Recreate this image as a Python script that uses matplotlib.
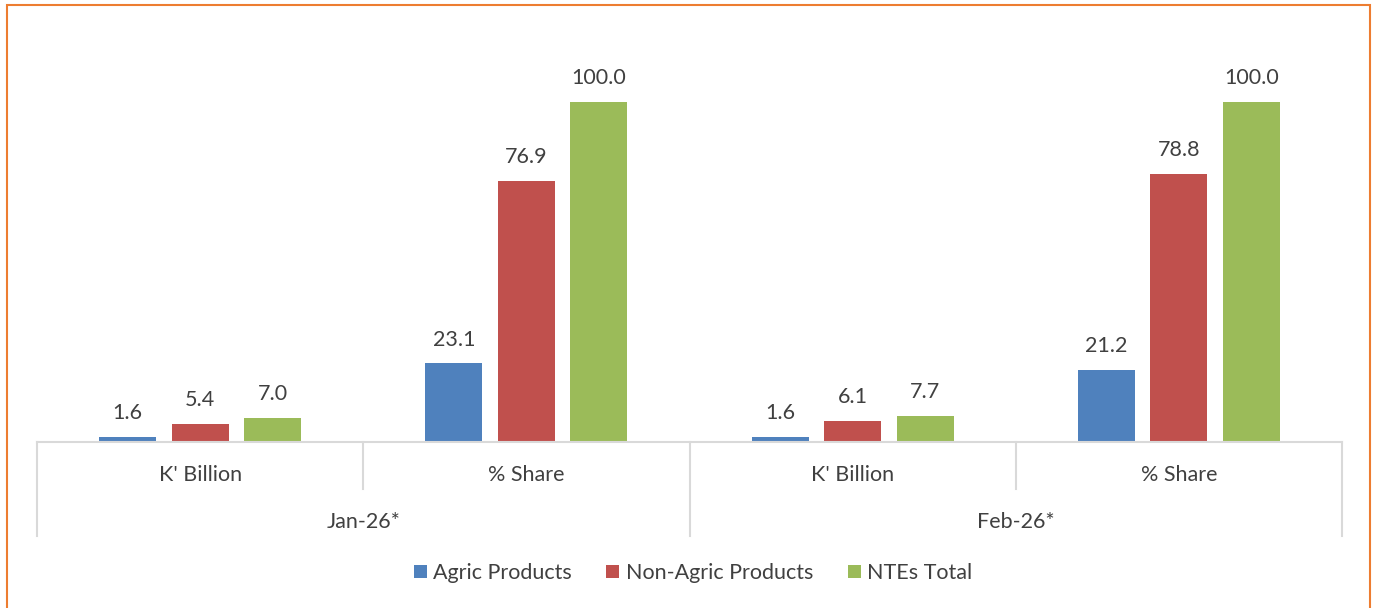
import numpy as np
import matplotlib.pyplot as plt
from matplotlib.patches import Rectangle

plt.rcParams['font.family'] = ['Lato', 'DejaVu Sans']

months = ['Jan-26*', 'Feb-26*']
measures = ["K' Billion", '% Share']
series = ['Agric Products', 'Non-Agric Products', 'NTEs Total']
# values per series, order: Jan K', Jan %, Feb K', Feb %
agric = [1.6, 23.1, 1.6, 21.2]
non_agric = [5.4, 76.9, 6.1, 78.8]
ntes_total = [7.0, 100.0, 7.7, 100.0]

colors = ['#4F81BD', '#C0504D', '#9BBB59']
text_col = '#404040'
grid_col = '#D9D9D9'
fs = 15.5

W, H = 1375, 608
fig = plt.figure(figsize=(W / 100, H / 100), dpi=100)
ax = fig.add_axes([37 / W, 166 / H, (1342 - 37) / W, 408 / H])

x = np.arange(len(agric))
width = 0.175
step = 0.222
for i, (vals, c, name) in enumerate(zip([agric, non_agric, ntes_total], colors, series)):
    bars = ax.bar(x + (i - 1) * step, vals, width, color=c, label=name)
    for b, v in zip(bars, vals):
        ax.annotate(f'{v:.1f}', (b.get_x() + b.get_width() / 2, v),
                    xytext=(0, 10), textcoords='offset points',
                    ha='center', va='bottom', fontsize=fs, color=text_col)

ax.set_xlim(-0.5, len(agric) - 0.5)
ax.set_ylim(0, 120)
ax.set_xticks([])
ax.set_yticks([])
for s in ['top', 'right', 'left']:
    ax.spines[s].set_visible(False)
ax.spines['bottom'].set_color(grid_col)
ax.spines['bottom'].set_linewidth(1.5)

# two-level category axis
trans = ax.get_xaxis_transform()
short = -47 / 408
long_ = -94 / 408
for k in range(len(agric) + 1):
    xb = k - 0.5
    y_end = long_ if k % 2 == 0 else short
    ax.plot([xb, xb], [0, y_end], transform=trans, color=grid_col, lw=1.5, clip_on=False)
for k, m in enumerate(measures * len(months)):
    ax.text(k, -33 / 408, m, transform=trans, ha='center', va='center',
            fontsize=fs, color=text_col)
for j, mo in enumerate(months):
    ax.text(2 * j + 0.5, -80 / 408, mo, transform=trans, ha='center', va='center',
            fontsize=fs, color=text_col)

leg = fig.legend(loc='center', bbox_to_anchor=(693 / W, 1 - 573 / H), ncol=3,
                 frameon=False, fontsize=fs, handlelength=0.6, handleheight=0.6,
                 handletextpad=0.3, columnspacing=1.6)
for t in leg.get_texts():
    t.set_color(text_col)

# chart border
fig.patches.append(Rectangle((7 / W, -0.01), (1370 - 7) / W, 1 - 5 / H + 0.01,
                             transform=fig.transFigure, fill=False,
                             edgecolor='#ED7D31', lw=1.5))

fig.savefig('out.png', dpi=100)
